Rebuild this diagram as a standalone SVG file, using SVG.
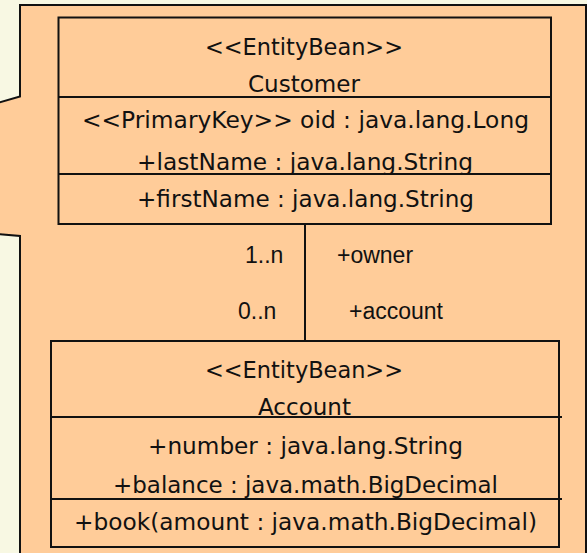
<svg xmlns="http://www.w3.org/2000/svg" width="587" height="553" viewBox="0 0 587 553">
  <style>
    .bg { fill: #F8F8E3; }
    .callout { fill: #FFCC99; stroke: #111111; stroke-width: 2; }
    .box { fill: none; stroke: #111111; stroke-width: 2; }
    .sep { stroke: #111111; stroke-width: 2; }
    .txt { font-family: "DejaVu Sans", Verdana, sans-serif; font-size: 23px; fill: #111111; text-anchor: middle; }
    .lbl { font-family: "Liberation Sans", Arial, sans-serif; font-size: 23px; fill: #111111; }
    .conn { stroke: #111111; stroke-width: 2; fill: none; }
  </style>

  <rect class="bg" x="0" y="0" width="587" height="553"/>

  <!-- callout panel with its pointer running off to the left -->
  <path class="callout" d="M20,5 H586 V560 H20 V236 L-10,233.5 V105 L20,96.5 Z"/>

  <g id="customer">
    <rect class="box" x="58.5" y="17.5" width="492.5" height="206.5"/>
    <line class="sep" x1="58.5" y1="97" x2="552" y2="97"/>
    <line class="sep" x1="58.5" y1="174" x2="552" y2="174"/>
    <text class="txt" x="304" y="55" textLength="198" lengthAdjust="spacingAndGlyphs">&lt;&lt;EntityBean&gt;&gt;</text>
    <text class="txt" x="304" y="92" textLength="112" lengthAdjust="spacingAndGlyphs">Customer</text>
    <text class="txt" x="305.5" y="128" textLength="447" lengthAdjust="spacingAndGlyphs">&lt;&lt;PrimaryKey&gt;&gt; oid : java.lang.Long</text>
    <text class="txt" x="305" y="169.5" textLength="336" lengthAdjust="spacingAndGlyphs">+lastName : java.lang.String</text>
    <text class="txt" x="305.5" y="207" textLength="337" lengthAdjust="spacingAndGlyphs">+firstName : java.lang.String</text>
  </g>

  <g id="account">
    <rect class="box" x="51" y="341" width="508" height="206"/>
    <line class="sep" x1="51" y1="417" x2="562" y2="417"/>
    <line class="sep" x1="51" y1="499" x2="562" y2="499"/>
    <text class="txt" x="304" y="377.5" textLength="198" lengthAdjust="spacingAndGlyphs">&lt;&lt;EntityBean&gt;&gt;</text>
    <text class="txt" x="304.5" y="414.5" textLength="93" lengthAdjust="spacingAndGlyphs">Account</text>
    <text class="txt" x="305.5" y="454" textLength="315" lengthAdjust="spacingAndGlyphs">+number : java.lang.String</text>
    <text class="txt" x="305.5" y="492.5" textLength="385" lengthAdjust="spacingAndGlyphs">+balance : java.math.BigDecimal</text>
    <text class="txt" x="305.5" y="530" textLength="463" lengthAdjust="spacingAndGlyphs">+book(amount : java.math.BigDecimal)</text>
  </g>

  <g id="connectors">
    <line class="conn" x1="305" y1="224" x2="305" y2="341"/>
    <text class="lbl" x="245" y="263">1..n</text>
    <text class="lbl" x="337" y="263">+owner</text>
    <text class="lbl" x="238" y="319">0..n</text>
    <text class="lbl" x="349" y="319">+account</text>
  </g>
</svg>
